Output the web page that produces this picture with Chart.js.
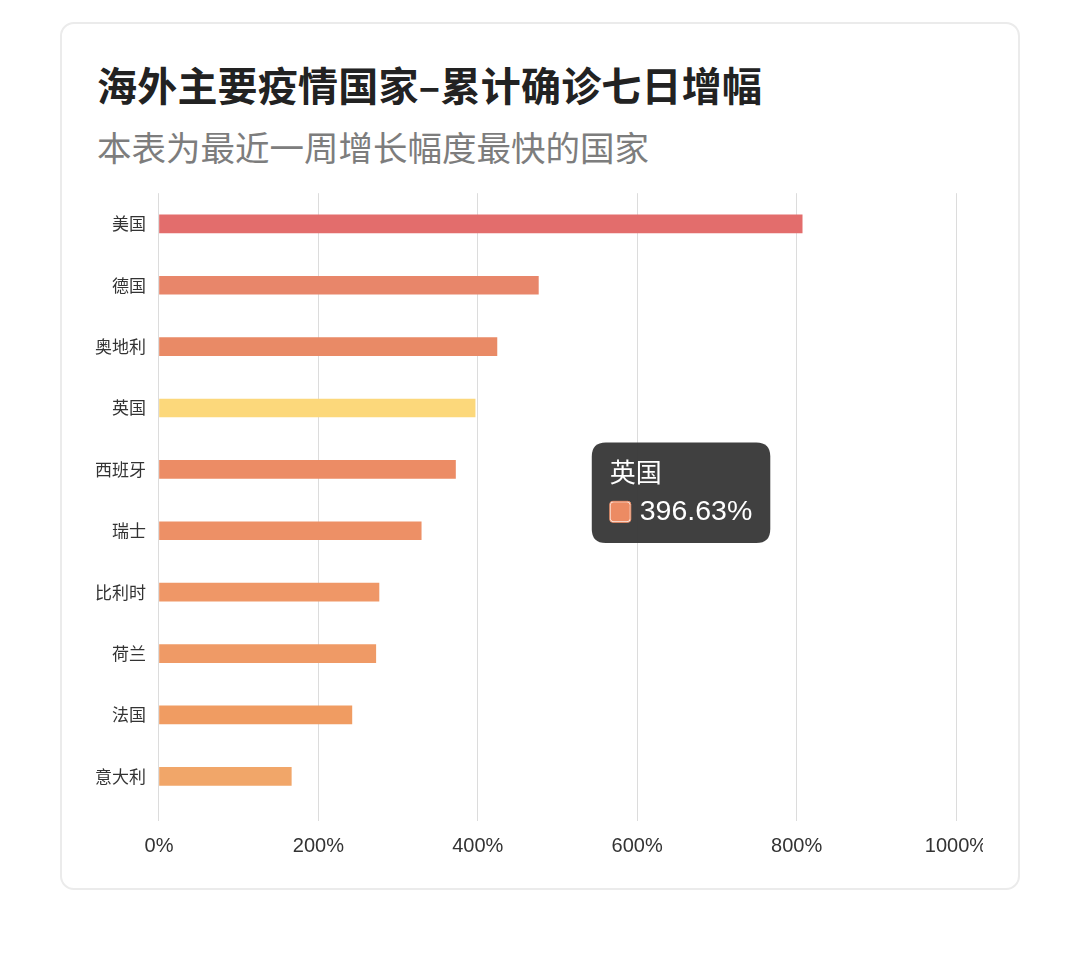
<!DOCTYPE html>
<html lang="zh-CN">
<head>
  <meta charset="UTF-8" />
  <title>海外主要疫情国家-累计确诊七日增幅</title>
  <script src="https://cdn.jsdelivr.net/npm/chart.js@4.4.3/dist/chart.umd.js"></script>
  <style>
    *{box-sizing:border-box;margin:0;padding:0}
    body{width:1080px;height:968px;background:#fff;position:relative;
         font-family:"Noto Sans CJK SC","Noto Sans",sans-serif;overflow:hidden}
    .card{position:absolute;left:60px;top:22px;width:960px;height:868px;
          border:2px solid #ebebeb;border-radius:14px;background:#fff}
    h1{position:absolute;left:97px;top:56px;font-size:40px;font-weight:700;
       color:#222;line-height:56px;white-space:nowrap;letter-spacing:.2px}
    h2{position:absolute;left:97px;top:123px;font-size:34.5px;font-weight:400;
       color:#7d7d7d;line-height:46px;white-space:nowrap}
    .clip{position:absolute;left:79px;top:170px;width:904px;height:712px;overflow:hidden}
    .inner{position:relative;width:941px;height:701px}
  </style>
</head>
<body>
  <div class="card"></div>
  <h1>海外主要疫情国家–累计确诊七日增幅</h1>
  <h2>本表为最近一周增长幅度最快的国家</h2>
  <div class="clip"><div class="inner"><canvas id="growthChart"></canvas></div></div>

  <script>
    /* ==== DATA ==== */
    const countries = ['美国','德国','奥地利','英国','西班牙','瑞士','比利时','荷兰','法国','意大利'];
    const growthPct = [807, 476, 424, 396.63, 372, 329, 276, 272, 242, 166];
    const barColors = ['#e36d6c','#e8866a','#e98a66','#ec8b63','#ec8c65','#ed9066','#ef9767','#ef9a66','#f09c62','#f1a669'];
    const xTicks = [0, 200, 400, 600, 800, 1000];
    const highlightIdx = 3;           // 英国, shown hovered with tooltip
    const tipAt = {value: 543, cat: 4.38};

    const numFont = '"Liberation Sans","Noto Sans CJK SC",sans-serif';

    Chart.Tooltip.positioners.fixedSpot = function(){
      const c = this.chart;
      return {x: c.scales.x.getPixelForValue(tipAt.value), y: c.scales.y.getPixelForValue(tipAt.cat)};
    };

    const chart = new Chart(document.getElementById('growthChart'), {
      type: 'bar',
      data: {
        labels: countries,
        datasets: [{
          data: growthPct,
          backgroundColor: barColors,
          hoverBackgroundColor: '#fcd87b',
          borderWidth: 0,
          barThickness: 18
        }]
      },
      options: {
        indexAxis: 'y',
        responsive: true, maintainAspectRatio: false,
        animation: false,
        events: [],
        layout: {padding: {left: 3, right: 64, top: 12, bottom: 0}},
        scales: {
          x: {
            min: 0, max: 1000,
            afterBuildTicks: s => { s.ticks = xTicks.map(v => ({value: v})); },
            ticks: {callback: v => v + '%', color: '#333', padding: 13,
                    font: {family: numFont, size: 20}},
            grid: {color: '#dcdcdc', lineWidth: 1, tickLength: 14, tickColor: '#dcdcdc'},
            border: {display: false}
          },
          y: {
            ticks: {color: '#333', padding: 13,
                    font: {family: '"Noto Sans CJK SC",sans-serif', size: 17}},
            grid: {display: false, drawTicks: false, tickLength: 0},
            border: {display: false}
          }
        },
        plugins: {
          legend: {display: false},
          tooltip: {
            position: 'fixedSpot',
            xAlign: 'left', yAlign: 'center',
            caretSize: 0, caretPadding: 0,
            backgroundColor: 'rgba(58,58,58,0.97)',
            cornerRadius: 14,
            padding: {x: 18, y: 14},
            titleFont: {family: '"Noto Sans CJK SC",sans-serif', size: 26, weight: 'normal'},
            titleColor: '#fff', titleMarginBottom: 7,
            bodyFont: {family: numFont, size: 28.5},
            bodyColor: '#fff',
            boxWidth: 21, boxHeight: 21, boxPadding: 7,
            displayColors: true,
            callbacks: {
              label: ctx => ctx.parsed.x.toFixed(2) + '%',
              labelColor: ctx => ({borderColor: barColors[ctx.dataIndex], backgroundColor: barColors[ctx.dataIndex], borderWidth: 0, borderRadius: 3})
            }
          }
        }
      }
    });

    const active = [{datasetIndex: 0, index: highlightIdx}];
    chart.setActiveElements(active);
    chart.tooltip.setActiveElements(active, {x: 0, y: 0});
    chart.update();
  </script>
</body>
</html>
